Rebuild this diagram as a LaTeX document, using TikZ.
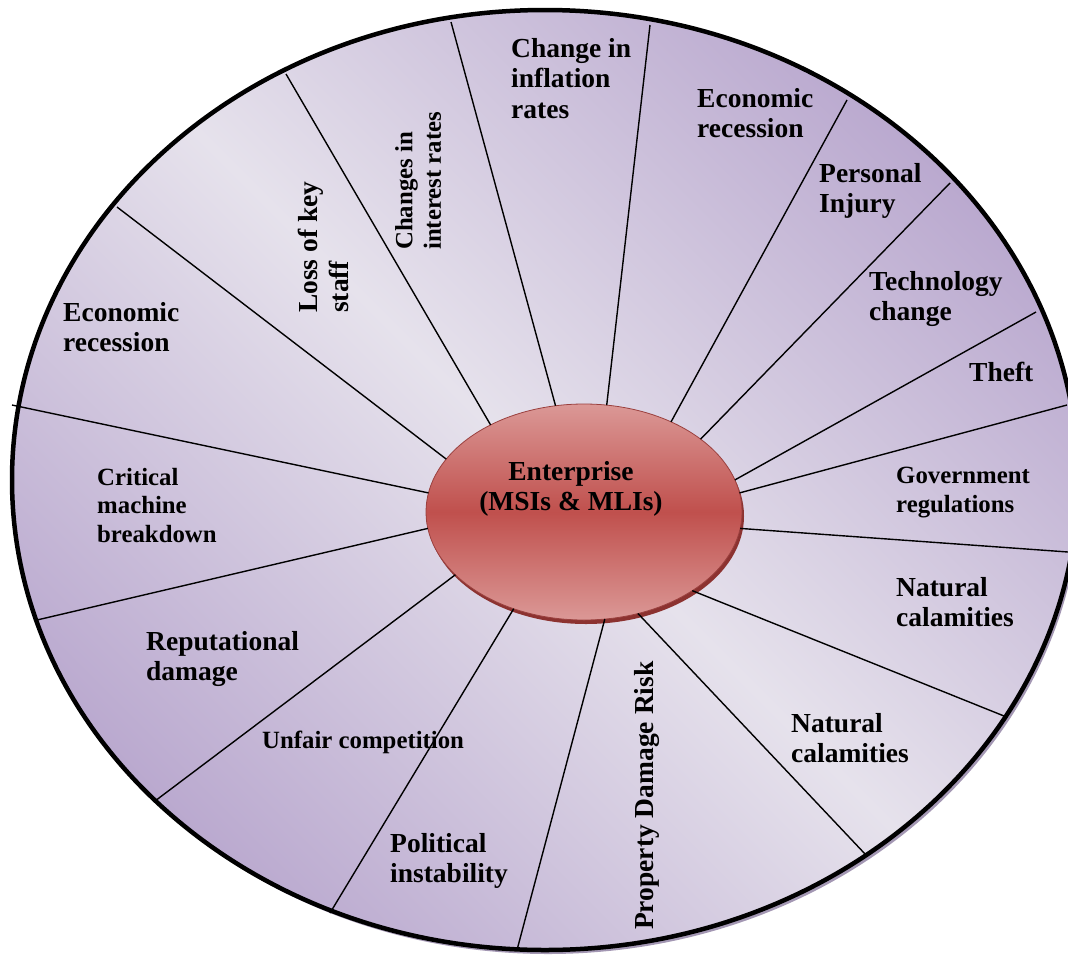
\documentclass[tikz,border=0pt]{standalone}
\usepackage{fontspec}
\setmainfont{Liberation Serif}
\usetikzlibrary{shapes.geometric}

\definecolor{discin}{HTML}{E6E2EC}
\definecolor{discout}{HTML}{BAA9CF}
\definecolor{discshadow}{HTML}{A397B3}
\definecolor{entlight}{HTML}{DB9896}
\definecolor{entmid}{HTML}{C0504D}
\definecolor{entdark}{HTML}{8C3230}

\tikzset{
  spoke/.style={line width=1.4pt, black},
  risk/.style={font=\fontsize{27.5}{30.5}\selectfont\bfseries, align=left, inner sep=0pt, anchor=north west},
  risksmall/.style={risk, font=\fontsize{24.8}{28.5}\selectfont\bfseries},
  ent/.style={ellipse, minimum width=316pt, minimum height=216pt, inner sep=0pt, outer sep=0pt,
    top color=entlight, bottom color=entlight, middle color=entmid, draw=entmid!80!black, line width=0.8pt}
}

\begin{document}
\begin{tikzpicture}[x=1pt, y=-1pt]
\useasboundingbox (0,0) rectangle (1068,956);

% Outer disc
\fill[discshadow] (548,484) ellipse [x radius=533, y radius=470];
\shade[top color=discout, bottom color=discout, middle color=discin, shading angle=-45]
  (545,480) ellipse [x radius=533, y radius=470];

% Outer ends of the spokes
\coordinate (o1) at (12,405);
\coordinate (o2) at (117,207);
\coordinate (o3) at (286,74);
\coordinate (o4) at (451,22);
\coordinate (o5) at (650,25);
\coordinate (o6) at (847,100);
\coordinate (o7) at (950,183);
\coordinate (o8) at (1036,312);
\coordinate (o9) at (1067,405);
\coordinate (o10) at (1068,552);
\coordinate (o11) at (1004,716);
\coordinate (o12) at (866,855);
\coordinate (o13) at (517,950);
\coordinate (o14) at (330,913);
\coordinate (o15) at (155,801);
\coordinate (o16) at (37,620);

% Centre
\fill[entdark] (586,516) ellipse [x radius=158, y radius=108];
\node[ent] (ent) at (584,512) {};
\node[font=\fontsize{27.5}{30.5}\selectfont\bfseries, align=center, inner sep=0pt, anchor=north] (entlbl) at (571,461) {Enterprise\\(MSIs \& MLIs)};

% Spokes
\draw[spoke] (ent.173) -- (o1);
\draw[spoke] (ent.159) -- (o2);
\draw[spoke] (ent.137) -- (o3);
\draw[spoke] (ent.105) -- (o4);
\draw[spoke] (ent.78) -- (o5);
\draw[spoke] (ent.46) -- (o6);
\draw[spoke] (ent.32) -- (o7);
\draw[spoke] (ent.12) -- (o8);
\draw[spoke] (ent.7) -- (o9);
\draw[spoke] (ent.-6) -- (o10);
\draw[spoke] (ent.-36) -- (o11);
\draw[spoke] (ent.-62) -- (o12);
\draw[spoke] (ent.-79) -- (o13);
\draw[spoke] (ent.-126) -- (o14);
\draw[spoke] (ent.-154) -- (o15);
\draw[spoke] (ent.-174) -- (o16);

% Rim
\draw[line width=4.5pt] (545,480) ellipse [x radius=533, y radius=470];

% Risks
\node[risksmall] (crit) at (97,468) {Critical\\machine\\breakdown};
\node[risk] (econl) at (63,302) {Economic\\recession};
\node[risk, rotate=90] (keystaff) at (298,313) {Loss of key\\staff};
\node[risksmall, rotate=90] (interest) at (395,250) {Changes in\\interest rates};
\node[risk] (inflation) at (511,38) {Change in\\inflation\\rates};
\node[risk] (econr) at (697,88) {Economic\\recession};
\node[risk] (injury) at (819,163) {Personal\\Injury};
\node[risk] (tech) at (869,271) {Technology\\change};
\node[risk] (theft) at (969,362) {Theft};
\node[risksmall] (govt) at (896,467) {Government\\regulations};
\node[risk] (natural1) at (896,577) {Natural\\calamities};
\node[risk] (natural2) at (791,713) {Natural\\calamities};
\node[risk, rotate=90] (property) at (634,930) {Property Damage Risk};
\node[risk] (political) at (390,833) {Political\\instability};
\node[risksmall] (unfair) at (262,731) {Unfair competition};
\node[risk] (reput) at (146,631) {Reputational\\damage};

\end{tikzpicture}
\end{document}
